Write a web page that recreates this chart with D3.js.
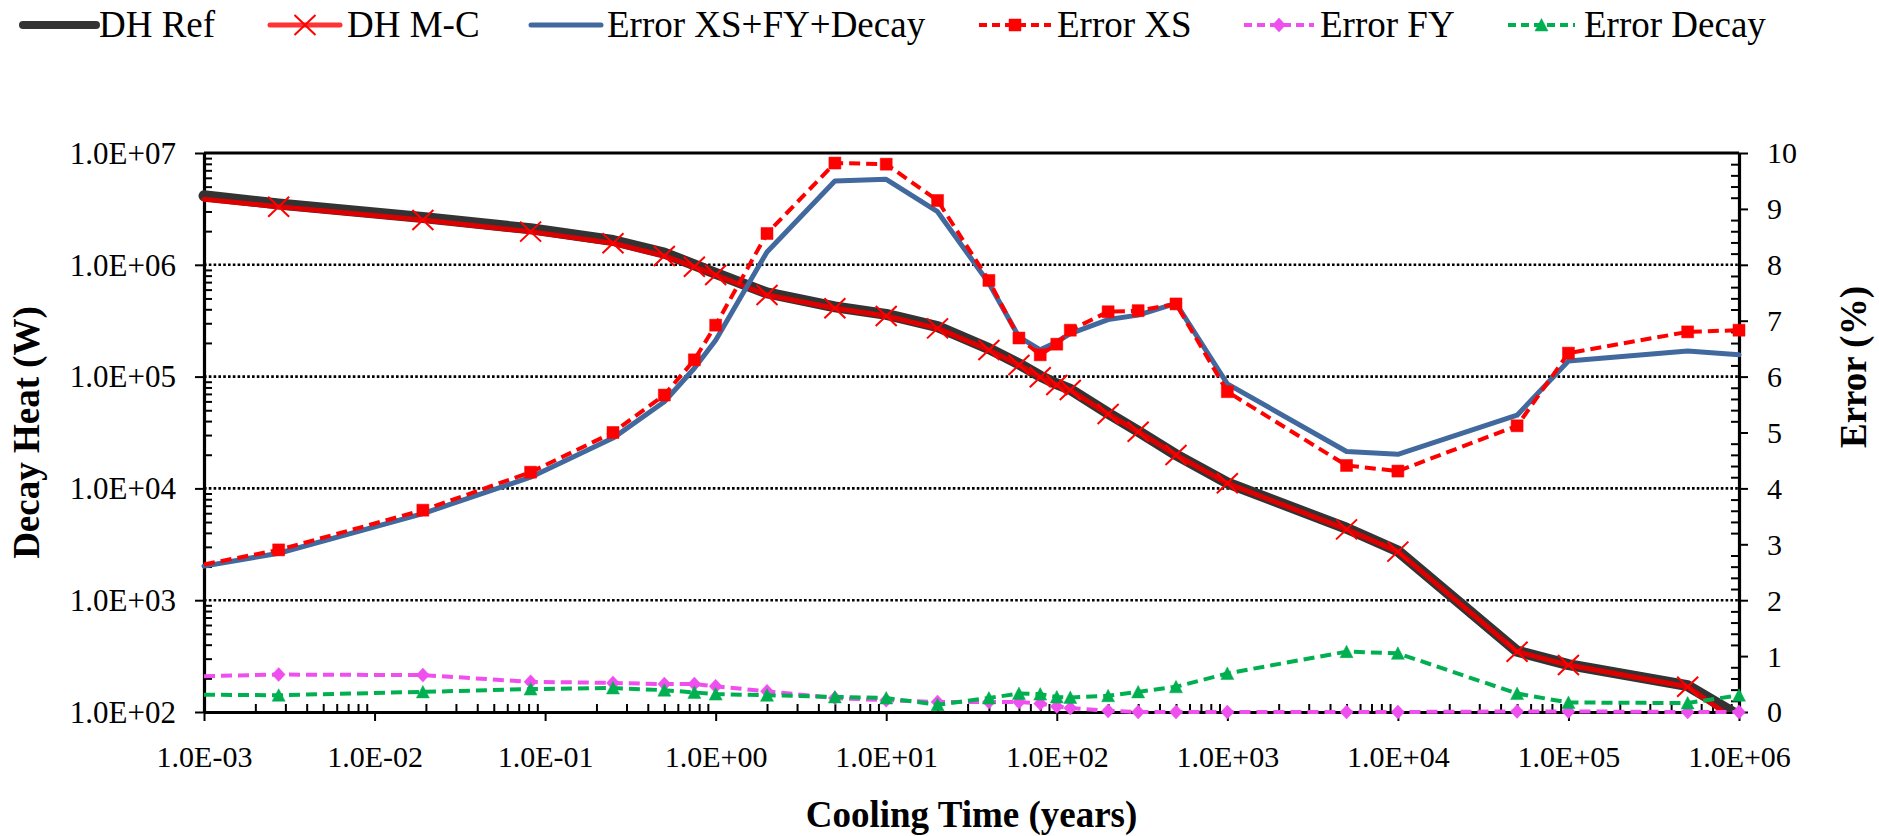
<!DOCTYPE html>
<html><head><meta charset="utf-8">
<script src="https://cdn.jsdelivr.net/npm/d3@7"></script>
<style>
body{margin:0;background:#fff;}
svg{display:block;font-family:"Liberation Serif","Times New Roman",serif;}
svg text{font-family:"Liberation Serif","Times New Roman",serif;}
</style></head><body>
<svg id="chart" width="1879" height="836"></svg>
<script>
// ---------- data ----------
const times = [0.001, 0.00274, 0.0192, 0.0822, 0.25, 0.5, 0.75, 1, 2, 5, 10, 20, 40, 60, 80, 100, 120, 200, 300, 500, 1000, 5000, 10000, 50000, 100000, 500000, 1000000];
const dhRef = [4.15e6, 3.5e6, 2.65e6, 2.1e6, 1.65e6, 1.27e6, 1.0e6, 8.4e5, 5.6e5, 4.2e5, 3.6e5, 2.8e5, 1.78e5, 1.3e5, 1.01e5, 8.6e4, 7.7e4, 4.7e4, 3.25e4, 2.0e4, 1.12e4, 4.4e3, 2.75e3, 350, 265, 172, 92];
const dhMC = [3.85e6, 3.31e6, 2.52e6, 1.98e6, 1.56e6, 1.2e6, 9.6e5, 8.1e5, 5.37e5, 4.08e5, 3.48e5, 2.7e5, 1.73e5, 1.27e5, 9.87e4, 8.4e4, 7.58e4, 4.62e4, 3.21e4, 1.99e4, 1.11e4, 4.3e3, 2.72e3, 346, 263, 168, 80];
const errAll = [2.61, 2.84, 3.55, 4.20, 4.90, 5.55, 6.15, 6.65, 8.23, 9.50, 9.53, 8.95, 7.67, 6.71, 6.48, 6.62, 6.77, 7.02, 7.10, 7.31, 5.87, 4.66, 4.61, 5.31, 6.28, 6.46, 6.39];
const errXS = [2.64, 2.90, 3.61, 4.29, 5.00, 5.67, 6.30, 6.92, 8.56, 9.82, 9.80, 9.15, 7.72, 6.69, 6.39, 6.58, 6.83, 7.16, 7.18, 7.30, 5.73, 4.41, 4.31, 5.12, 6.42, 6.80, 6.83];
const errFY = [0.64, 0.67, 0.66, 0.54, 0.52, 0.50, 0.50, 0.46, 0.37, 0.25, 0.21, 0.18, 0.18, 0.18, 0.15, 0.10, 0.07, 0.02, 0.0, 0.0, 0.0, 0.0, 0.0, 0.01, 0.01, 0.0, 0.0];
const errDecay = [0.31, 0.30, 0.36, 0.41, 0.43, 0.39, 0.35, 0.32, 0.30, 0.27, 0.25, 0.13, 0.25, 0.33, 0.32, 0.27, 0.26, 0.29, 0.36, 0.45, 0.69, 1.08, 1.05, 0.33, 0.17, 0.16, 0.30];

const xTickValues = [1e-3, 1e-2, 1e-1, 1e0, 1e1, 1e2, 1e3, 1e4, 1e5, 1e6];
const xTickLabels = ["1.0E-03","1.0E-02","1.0E-01","1.0E+00","1.0E+01","1.0E+02","1.0E+03","1.0E+04","1.0E+05","1.0E+06"];
const yTickValues = [1e2, 1e3, 1e4, 1e5, 1e6, 1e7];
const yTickLabels = ["1.0E+02","1.0E+03","1.0E+04","1.0E+05","1.0E+06","1.0E+07"];
const y2TickValues = [0,1,2,3,4,5,6,7,8,9,10];
const y2TickLabels = ["0","1","2","3","4","5","6","7","8","9","10"];
const gridValues = [1e3, 1e4, 1e5, 1e6];

const xTitle = "Cooling Time (years)";
const yTitle = "Decay Heat (W)";
const y2Title = "Error (%)";

// ---------- layout ----------
const FONT = '"Liberation Serif","Times New Roman",serif';
const L = 204, R = 1739, T = 153, B = 712;
const svg = d3.select("#chart");
const x = d3.scaleLog().domain([1e-3, 1e6]).range([L, R]);
const yL = d3.scaleLog().domain([1e2, 1e7]).range([B, T]);
const yR = d3.scaleLinear().domain([0, 10]).range([B, T]);

function minorLog(lo, hi) { const a = []; for (let e = lo; e < hi; e++) for (let k = 2; k <= 9; k++) a.push(k * Math.pow(10, e)); return a; }
const yMinor = minorLog(2, 7);
const xMinor = minorLog(-3, 6);
const y2Minor = d3.range(0, 10.001, 0.2).filter(v => Math.abs(v - Math.round(v)) > 1e-6);

// clip
svg.append("defs").append("clipPath").attr("id", "plotclip")
  .append("rect").attr("x", L - 10).attr("y", T).attr("width", R - L + 20).attr("height", B - T);

// gridlines
svg.append("g").selectAll("line").data(gridValues).join("line")
  .attr("x1", L).attr("x2", R).attr("y1", d => yL(d)).attr("y2", d => yL(d))
  .attr("stroke", "#000").attr("stroke-width", 2.6).attr("stroke-dasharray", "2.6,2.2");

// top border
svg.append("line").attr("x1", L).attr("x2", R).attr("y1", T).attr("y2", T)
  .attr("stroke", "#000").attr("stroke-width", 3.2);

function styleAxis(g) {
  g.attr("font-family", FONT);
  g.select(".domain").attr("stroke", "#000").attr("stroke-width", 3.2);
  g.selectAll(".tick line").attr("stroke", "#000").attr("stroke-width", 2);
}

// left axis
const gL = svg.append("g").attr("transform", `translate(${L},0)`);
gL.call(d3.axisLeft(yL).tickValues(yMinor).tickSize(-8).tickSizeOuter(0).tickFormat(""));
gL.call(g => g.select(".domain").remove());
const gL2 = svg.append("g").attr("transform", `translate(${L},0)`)
  .call(d3.axisLeft(yL).tickValues(yTickValues).tickSize(9).tickSizeOuter(0).tickPadding(19)
    .tickFormat((d, i) => yTickLabels[i]));
[gL, gL2].forEach(styleAxis);
gL2.selectAll("text").attr("font-size", 31).attr("fill", "#000").attr("dy", "0.33em");

// right axis
const gR = svg.append("g").attr("transform", `translate(${R},0)`);
gR.call(d3.axisRight(yR).tickValues(y2Minor).tickSize(-8).tickSizeOuter(0).tickFormat(""));
gR.call(g => g.select(".domain").remove());
const gR2 = svg.append("g").attr("transform", `translate(${R},0)`)
  .call(d3.axisRight(yR).tickValues(y2TickValues).tickSize(9).tickSizeOuter(0).tickPadding(19)
    .tickFormat((d, i) => y2TickLabels[i]));
[gR, gR2].forEach(styleAxis);
gR2.selectAll("text").attr("font-size", 30).attr("fill", "#000").attr("dy", "0.33em");

// bottom axis
const gB = svg.append("g").attr("transform", `translate(0,${B})`);
gB.call(d3.axisBottom(x).tickValues(xMinor).tickSize(-8).tickSizeOuter(0).tickFormat(""));
gB.call(g => g.select(".domain").remove());
const gB2 = svg.append("g").attr("transform", `translate(0,${B})`)
  .call(d3.axisBottom(x).tickValues(xTickValues).tickSize(9).tickSizeOuter(0)
    .tickFormat((d, i) => xTickLabels[i]));
[gB, gB2].forEach(styleAxis);
gB2.selectAll("text").attr("font-size", 30).attr("fill", "#000")
  .attr("y", 55).attr("dy", null);

// axis titles
svg.append("text").attr("transform", `translate(39,${(T + B) / 2}) rotate(-90)`)
  .attr("text-anchor", "middle").attr("font-size", 37).attr("font-weight", "bold").text(yTitle);
svg.append("text").attr("transform", `translate(1866,367) rotate(-90)`)
  .attr("text-anchor", "middle").attr("font-size", 37).attr("font-weight", "bold").text(y2Title);
svg.append("text").attr("x", (L + R) / 2).attr("y", 827)
  .attr("text-anchor", "middle").attr("font-size", 37).attr("font-weight", "bold").text(xTitle);

// ---------- series ----------
const markerPaths = {
  x: "M-10.5,-10L10.5,10M-10.5,10L10.5,-10",
  square: "M-6,-6H6V6H-6Z",
  diamond: "M0,-7L6.5,0L0,7L-6.5,0Z",
  triangle: "M0,-6.5L6.5,6L-6.5,6Z"
};
const series = [
  { name: "DH Ref", vals: dhRef, axis: "L", color: "#333333", width: 11, dash: null, marker: null, legendW: 8 },
  { name: "DH M-C", vals: dhMC, axis: "L", color: "#dd0000", width: 5, dash: null, marker: "x", mcolor: "#ff0000", legendColor: "#ff3333", legendW: 5 },
  { name: "Error XS+FY+Decay", vals: errAll, axis: "R", color: "#41699e", width: 5, dash: null, marker: null, legendW: 5 },
  { name: "Error XS", vals: errXS, axis: "R", color: "#ff0000", width: 4, dash: "11,6", marker: "square", mcolor: "#ff0000", legendW: 4 },
  { name: "Error FY", vals: errFY, axis: "R", color: "#ee4fee", width: 4, dash: "11,6", marker: "diamond", mcolor: "#ee4fee", legendW: 4 },
  { name: "Error Decay", vals: errDecay, axis: "R", color: "#00b050", width: 4, dash: "11,6", marker: "triangle", mcolor: "#00b050", legendW: 4 }
];

series.forEach(s => {
  const ys = s.axis === "L" ? yL : yR;
  const line = d3.line().x((d, i) => x(times[i])).y(d => ys(d));
  const g = svg.append("g");
  if (s.axis === "L") g.attr("clip-path", "url(#plotclip)");
  g.append("path").datum(s.vals).attr("d", line).attr("fill", "none")
    .attr("stroke", s.color).attr("stroke-width", s.width)
    .attr("stroke-linejoin", "round").attr("stroke-linecap", s.dash ? "butt" : "round")
    .attr("stroke-dasharray", s.dash);
  if (s.marker) {
    const pts = s.vals.map((v, i) => ({ t: times[i], v })).slice(1);
    g.selectAll("path.m").data(pts).join("path").attr("class", "m")
      .attr("transform", d => `translate(${x(d.t)},${ys(d.v)})`)
      .attr("d", markerPaths[s.marker])
      .attr("fill", s.marker === "x" ? "none" : s.mcolor)
      .attr("stroke", s.mcolor).attr("stroke-width", s.marker === "x" ? 2 : 0.5);
  }
});

// ---------- legend ----------
const legendPos = [
  { x1: 23, x2: 96, tx: 99 },
  { x1: 270, x2: 340, tx: 347 },
  { x1: 531, x2: 601, tx: 607 },
  { x1: 979, x2: 1051, tx: 1057 },
  { x1: 1244, x2: 1314, tx: 1320 },
  { x1: 1508, x2: 1575, tx: 1584 }
];
const lg = svg.append("g");
series.forEach((s, i) => {
  const p = legendPos[i];
  const ly = 25;
  lg.append("line").attr("x1", p.x1).attr("x2", p.x2).attr("y1", ly).attr("y2", ly)
    .attr("stroke", s.legendColor || s.color).attr("stroke-width", s.legendW)
    .attr("stroke-linecap", s.dash ? "butt" : "round")
    .attr("stroke-dasharray", s.dash ? "8,5" : null);
  if (s.marker) {
    lg.append("path").attr("transform", `translate(${(p.x1 + p.x2) / 2},${ly})`)
      .attr("d", markerPaths[s.marker])
      .attr("fill", s.marker === "x" ? "none" : s.mcolor)
      .attr("stroke", s.mcolor).attr("stroke-width", s.marker === "x" ? 2 : 0.5);
  }
  lg.append("text").attr("x", p.tx).attr("y", 37).attr("font-size", 37).attr("fill", "#000").text(s.name);
});
</script>
</body></html>
